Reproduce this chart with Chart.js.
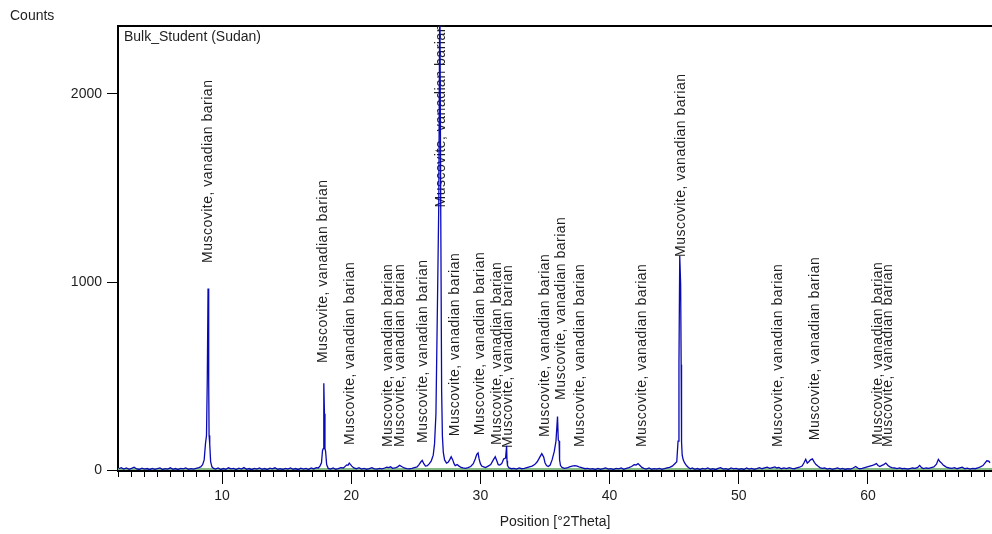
<!DOCTYPE html>
<html lang="en">
<head>
<meta charset="UTF-8">
<title>Bulk_Student (Sudan)</title>
<script src="https://cdn.jsdelivr.net/npm/chart.js"></script>
<style>
  html, body { margin: 0; padding: 0; background: #fff; }
  #wrap { width: 992px; height: 534px; position: relative; }
</style>
</head>
<body>
<div id="wrap"><canvas id="xrd"></canvas></div>
<script>
const twoTheta = [
  2.0, 2.2, 2.4, 2.6, 2.8, 3.0, 3.2, 3.4, 3.6, 3.8, 4.0, 4.2, 4.4, 4.6, 4.8, 5.0, 5.2, 5.4, 5.6, 5.8,
  6.0, 6.2, 6.4, 6.6, 6.8, 7.0, 7.2, 7.4, 7.6, 7.8, 8.0, 8.2, 8.35, 8.5, 8.62, 8.72, 8.8, 8.86, 8.92, 8.97,
  9.0, 9.05, 9.12, 9.22, 9.35, 9.5, 9.7, 9.9, 10.1, 10.3, 10.5, 10.7, 10.9, 11.1, 11.3, 11.5, 11.7, 11.9, 12.1, 12.3,
  12.5, 12.7, 12.9, 13.1, 13.3, 13.5, 13.7, 13.9, 14.1, 14.3, 14.5, 14.7, 14.9, 15.1, 15.3, 15.5, 15.7, 15.9, 16.1, 16.3,
  16.5, 16.7, 16.9, 17.1, 17.3, 17.45, 17.58, 17.7, 17.78, 17.84, 17.88, 17.93, 17.97, 18.02, 18.1, 18.22, 18.4, 18.6, 18.8, 19.0,
  19.2, 19.4, 19.55, 19.65, 19.75, 19.85, 19.95, 20.05, 20.2, 20.4, 20.6, 20.8, 21.0, 21.2, 21.4, 21.6, 21.8, 22.0, 22.2, 22.4,
  22.6, 22.75, 22.9, 23.05, 23.2, 23.4, 23.6, 23.75, 23.9, 24.1, 24.3, 24.5, 24.7, 24.9, 25.1, 25.25, 25.4, 25.5, 25.62, 25.75,
  25.9, 26.05, 26.2, 26.35, 26.45, 26.56, 26.68, 26.78, 26.86, 26.93, 27.0, 27.06, 27.13, 27.23, 27.38, 27.5, 27.62, 27.74, 27.86, 27.96,
  28.05, 28.2, 28.35, 28.5, 28.65, 28.85, 29.05, 29.25, 29.45, 29.6, 29.72, 29.82, 29.9, 30.0, 30.1, 30.25, 30.4, 30.6, 30.8, 31.0,
  31.15, 31.27, 31.38, 31.5, 31.65, 31.8, 31.95, 32.03, 32.06, 32.1, 32.22, 32.4, 32.6, 32.8, 33.0, 33.2, 33.4, 33.6, 33.8, 34.0,
  34.2, 34.4, 34.6, 34.75, 34.9, 35.0, 35.12, 35.25, 35.4, 35.55, 35.72, 35.85, 35.97, 36.03, 36.09, 36.13, 36.2, 36.32, 36.5, 36.7,
  36.9, 37.1, 37.3, 37.5, 37.7, 37.9, 38.1, 38.3, 38.5, 38.7, 38.9, 39.1, 39.3, 39.5, 39.7, 39.9, 40.1, 40.3, 40.5, 40.7,
  40.9, 41.1, 41.3, 41.5, 41.7, 41.9, 42.05, 42.2, 42.35, 42.5, 42.65, 42.85, 43.05, 43.25, 43.45, 43.65, 43.85, 44.05, 44.25, 44.45,
  44.65, 44.85, 45.05, 45.2, 45.3, 45.37, 45.43, 45.5, 45.54, 45.57, 45.62, 45.7, 45.8, 45.95, 46.1, 46.25, 46.4, 46.6, 46.8, 47.0,
  47.2, 47.4, 47.6, 47.8, 48.0, 48.2, 48.4, 48.6, 48.8, 49.0, 49.2, 49.4, 49.6, 49.8, 50.0, 50.2, 50.4, 50.6, 50.8, 51.0,
  51.2, 51.4, 51.6, 51.8, 52.0, 52.2, 52.4, 52.6, 52.8, 52.95, 53.1, 53.3, 53.5, 53.7, 53.9, 54.1, 54.3, 54.5, 54.7, 54.9,
  55.05, 55.18, 55.3, 55.42, 55.55, 55.7, 55.85, 55.98, 56.12, 56.28, 56.45, 56.65, 56.85, 57.05, 57.25, 57.45, 57.65, 57.85, 58.05, 58.25,
  58.45, 58.65, 58.85, 59.05, 59.2, 59.35, 59.55, 59.75, 59.95, 60.15, 60.35, 60.5, 60.65, 60.78, 60.92, 61.08, 61.22, 61.38, 61.55, 61.7,
  61.85, 62.05, 62.25, 62.45, 62.65, 62.85, 63.05, 63.25, 63.45, 63.65, 63.85, 64.0, 64.15, 64.3, 64.5, 64.7, 64.9, 65.1, 65.3, 65.45,
  65.58, 65.7, 65.82, 65.95, 66.1, 66.3, 66.5, 66.7, 66.9, 67.1, 67.3, 67.5, 67.7, 67.9, 68.1, 68.3, 68.5, 68.7, 68.9, 69.05,
  69.2, 69.35, 69.45, 69.6
];
const counts = [
  8, 14, 6, 12, 5, 10, 16, 7, 4, 11, 6, 9, 3, 10, 5, 8, 12, 4, 9, 6,
  13, 5, 9, 4, 10, 7, 12, 5, 9, 6, 10, 14, 18, 30, 55, 140, 185, 480, 965, 480,
  185, 140, 45, 18, 10, 6, 12, 4, 9, 5, 13, 7, 10, 4, 11, 6, 14, 5, 9, 3,
  10, 6, 12, 5, 9, 4, 11, 7, 13, 5, 8, 4, 10, 6, 12, 5, 9, 3, 11, 6,
  10, 4, 12, 7, 14, 12, 22, 40, 105, 115, 462, 300, 115, 100, 30, 10, 6, 12, 5, 9,
  14, 12, 22, 28, 26, 38, 30, 22, 12, 8, 14, 6, 10, 5, 9, 14, 7, 6, 10, 7,
  12, 16, 14, 18, 10, 12, 18, 26, 20, 12, 9, 7, 10, 14, 18, 30, 45, 52, 35, 22,
  24, 35, 50, 80, 140, 300, 900, 1420, 2600, 1400, 420, 180, 95, 55, 38, 42, 55, 72, 55, 35,
  25, 30, 22, 15, 12, 10, 14, 20, 35, 60, 85, 92, 60, 35, 22, 18, 14, 22, 30, 55,
  72, 50, 30, 28, 35, 60, 65, 130, 50, 25, 12, 8, 10, 6, 12, 8, 10, 14, 18, 22,
  30, 45, 70, 88, 70, 40, 25, 20, 28, 55, 100, 155, 285, 160, 155, 55, 25, 15, 10, 12,
  18, 22, 25, 22, 16, 12, 8, 10, 6, 9, 4, 10, 5, 8, 12, 6, 9, 4, 10, 7,
  12, 5, 10, 14, 20, 30, 28, 35, 25, 15, 10, 6, 12, 5, 9, 6, 10, 5, 8, 12,
  15, 22, 35, 45, 155, 570, 1140, 990, 560, 150, 80, 55, 40, 25, 15, 8, 12, 5, 9, 4,
  10, 6, 12, 5, 8, 3, 10, 14, 6, 9, 4, 12, 7, 10, 5, 8, 4, 12, 6, 10,
  5, 9, 14, 8, 12, 16, 10, 14, 18, 12, 15, 8, 12, 9, 14, 10, 8, 12, 16, 22,
  40, 58, 38, 45, 55, 60, 42, 30, 22, 14, 10, 12, 6, 10, 5, 9, 12, 6, 10, 4,
  8, 6, 12, 20, 12, 8, 10, 14, 18, 22, 26, 30, 35, 25, 20, 26, 30, 38, 25, 18,
  14, 12, 9, 12, 8, 10, 6, 9, 12, 10, 15, 26, 14, 9, 12, 10, 14, 18, 32, 58,
  45, 38, 28, 22, 15, 12, 10, 14, 8, 12, 16, 8, 11, 6, 10, 8, 12, 18, 25, 38,
  50, 48, 40
];

// fitted background (green)
const bgTheta = [1.95, 69.6];
const bgCounts = [6, 6];

// phase marks
const peakPos = [8.92, 17.82, 19.9, 22.85, 23.78, 25.56, 27.0, 28.03, 29.97, 31.28,
  32.14, 35.0, 36.24, 37.71, 42.5, 45.53, 53.03, 55.9, 60.77, 61.55];
const peakLabelBase = [1101, 570, 134, 123, 123, 145, 1396, 181, 186, 134,
  118, 176, 373, 123, 123, 1133, 123, 160, 134, 123];
const peakName = 'Muscovite, vanadian barian';

const xTicks = [10, 20, 30, 40, 50, 60];
const yTicks = [0, 1000, 2000];

const FONT = '"Liberation Sans", Arial, sans-serif';
const TXT = '#1e1e1e';

const peakLabels = {
  id: 'peakLabels',
  beforeDatasetsDraw(chart) {
    const {ctx, scales: {x, y}} = chart;
    ctx.save();
    ctx.font = '14px ' + FONT;
    ctx.fillStyle = TXT;
    ctx.letterSpacing = '0.5px';
    ctx.textAlign = 'left';
    ctx.textBaseline = 'middle';
    peakPos.forEach((p, i) => {
      ctx.save();
      ctx.translate(x.getPixelForValue(p), y.getPixelForValue(peakLabelBase[i]));
      ctx.rotate(-Math.PI / 2);
      ctx.fillText(peakName, 0, 0);
      ctx.restore();
    });
    ctx.restore();
  },
  afterDraw(chart) {
    const {ctx, chartArea} = chart;
    ctx.save();
    ctx.font = '14px ' + FONT;
    ctx.fillStyle = TXT;
    ctx.textBaseline = 'middle';
    ctx.fillText('Counts', 10, 16);
    ctx.fillText('Bulk_Student (Sudan)', chartArea.left + 6, chartArea.top + 11);
    ctx.restore();
  }
};

new Chart(document.getElementById('xrd'), {
  type: 'line',
  data: {
    datasets: [{
      label: 'Bulk_Student (Sudan)',
      data: twoTheta.map((t, i) => ({x: t, y: counts[i]})),
      xAxisID: 'x',
      yAxisID: 'y',
      borderColor: '#0a0ab4',
      borderWidth: 1.3,
      pointRadius: 0,
      tension: 0
    }, {
      label: 'Background',
      data: bgTheta.map((t, i) => ({x: t, y: bgCounts[i]})),
      xAxisID: 'x',
      yAxisID: 'y',
      borderColor: '#86bb86',
      borderWidth: 2,
      pointRadius: 0
    }]
  },
  options: {
    responsive: true,
    maintainAspectRatio: false,
    animation: false,
    layout: { padding: 0 },
    plugins: {
      legend: { display: false },
      tooltip: { enabled: false }
    },
    scales: {
      x: {
        type: 'linear',
        position: 'bottom',
        min: 1.95,
        max: 69.6,
        afterBuildTicks: s => { s.ticks = xTicks.map(v => ({value: v})); },
        afterFit: s => { s.height = 63; },
        grid: { drawOnChartArea: false, tickLength: 13, tickColor: '#000' },
        border: { color: '#000', width: 2 },
        ticks: {
          font: { family: FONT, size: 14 },
          color: TXT,
          padding: 4,
          maxRotation: 0,
          callback: v => String(v)
        },
        title: {
          display: true,
          text: 'Position [°2Theta]',
          font: { family: FONT, size: 14 },
          color: TXT,
          padding: { top: 0, bottom: 3 }
        }
      },
      xMinor: {
        type: 'linear',
        position: { y: -4 },
        min: 1.95,
        max: 69.6,
        ticks: { display: false, stepSize: 1, includeBounds: false, autoSkip: false },
        grid: { drawOnChartArea: false, tickLength: 6, tickColor: '#000' },
        border: { display: false }
      },
      xTop: {
        type: 'linear',
        position: 'top',
        min: 1.95,
        max: 69.6,
        ticks: { display: false },
        grid: { display: false },
        border: { color: '#000', width: 2 },
        afterFit: s => { s.height = 26; }
      },
      y: {
        type: 'linear',
        min: -4,
        max: 2360,
        afterBuildTicks: s => { s.ticks = yTicks.map(v => ({value: v})); },
        afterFit: s => { s.width = 118; },
        grid: { drawOnChartArea: false, tickLength: 11, tickColor: '#000' },
        border: { color: '#000', width: 2 },
        ticks: {
          font: { family: FONT, size: 14 },
          color: TXT,
          padding: 5,
          callback: v => String(v)
        }
      }
    }
  },
  plugins: [peakLabels]
});
</script>
</body>
</html>
